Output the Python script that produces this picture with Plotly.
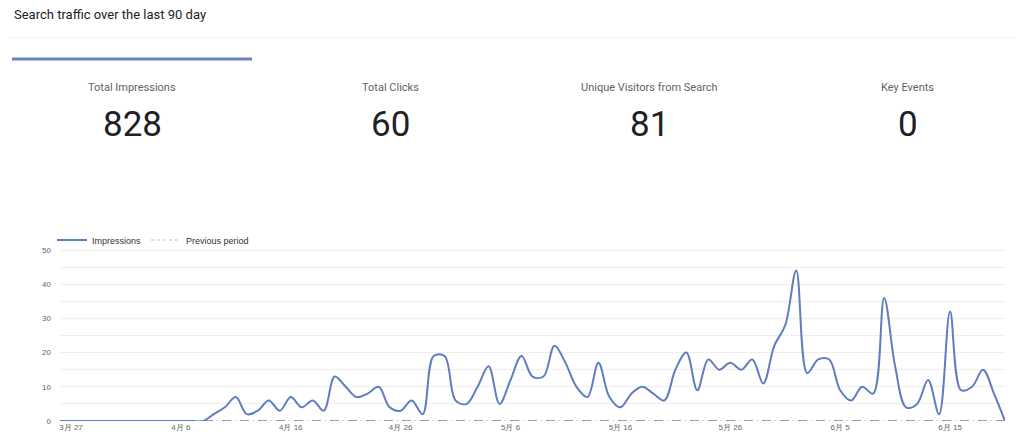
import pandas as pd
import plotly.graph_objects as go

# データ (3/26 から 6/20 までの日別インプレッション)
start_date = "2025-03-26"
impressions = [
    0, 0, 0, 0, 0, 0, 0, 0, 0, 0, 0, 0, 0, 0,
    2, 4, 7, 2, 3, 6, 3, 7, 4, 6, 3, 13, 10,
    7, 8, 10, 4, 3, 6, 2, 19, 19, 6, 5, 10, 16, 5, 12,
    19, 13, 13, 22, 17, 10, 7, 17, 7, 4, 8, 10, 8, 6, 15, 20,
    9, 18, 15, 17, 15, 18, 11, 22, 28, 44, 14, 18, 18,
    9, 6, 10, 8, 36, 16, 4, 5, 12, 2, 32, 9, 10, 15, 8, 0,
]
previous_period = [0] * len(impressions)
dates = pd.date_range(start_date, periods=len(impressions), freq="D")

tick_dates = ["2025-03-27", "2025-04-06", "2025-04-16", "2025-04-26", "2025-05-06",
              "2025-05-16", "2025-05-26", "2025-06-05", "2025-06-15"]
tick_text = ["3月 27", "4月 6", "4月 16", "4月 26", "5月 6",
             "5月 16", "5月 26", "6月 5", "6月 15"]
y_ticks = [0, 5, 10, 15, 20, 25, 30, 35, 40, 45, 50]
y_text = ["0", "", "10", "", "20", "", "30", "", "40", "", "50"]

kpi_labels = ["Total Impressions", "Total Clicks", "Unique Visitors from Search", "Key Events"]
kpi_values = ["828", "60", "81", "0"]

# ページは body の余白 8px 分ずれるので、その分を差し引いて配置する
OFF = 8
W, H = 1024 - OFF, 446 - OFF
L, R, T, B = 60 - OFF, 19, 249 - OFF, 25
PW, PH = W - L - R, H - T - B


def px(x):
    return (x - OFF - L) / PW


def py(y):
    return (H - B - (y - OFF)) / PH


fig = go.Figure()
fig.add_trace(go.Scatter(
    x=dates, y=previous_period, name="Previous period", mode="lines",
    line=dict(color="#c9d3ea", width=1.5, dash="dot"),
))
fig.add_trace(go.Scatter(
    x=dates, y=previous_period, showlegend=False, mode="lines", hoverinfo="skip",
    line=dict(color="#555555", width=1, dash="dash"),
))
fig.add_trace(go.Scatter(
    x=dates, y=impressions, name="Impressions", mode="lines",
    line=dict(color="#5f7dbf", width=2, shape="spline", smoothing=1.0),
))

# タイトル・KPI
ann = [dict(text="Search traffic over the last 90 day", x=px(12), y=py(15),
            xref="paper", yref="paper", xanchor="left", yanchor="middle", showarrow=False,
            font=dict(family="Roboto", size=13, color="#202124"))]
for i, (lab, val) in enumerate(zip(kpi_labels, kpi_values)):
    cx = 132 + i * 258.5
    ann.append(dict(text=lab, x=px(cx), y=py(87), xref="paper", yref="paper",
                    xanchor="center", yanchor="middle", showarrow=False,
                    font=dict(family="Roboto", size=11, color="#5f6368")))
    ann.append(dict(text=val, x=px(cx), y=py(124), xref="paper", yref="paper",
                    xanchor="center", yanchor="middle", showarrow=False,
                    font=dict(family="Roboto", size=35, color="#202124")))

shapes = [
    dict(type="line", xref="paper", yref="paper", x0=px(0), x1=px(1024), y0=py(38), y1=py(38),
         line=dict(color="#efefef", width=1)),
    dict(type="line", xref="paper", yref="paper", x0=px(12), x1=px(252), y0=py(59), y1=py(59),
         line=dict(color="#6a84c0", width=3)),
]

fig.update_layout(
    width=W, height=H,
    margin=dict(l=L, r=R, t=T, b=B),
    paper_bgcolor="white", plot_bgcolor="white",
    font=dict(family="Liberation Sans", size=9, color="#666666"),
    annotations=ann, shapes=shapes,
    legend=dict(orientation="h", x=px(52), y=py(240), xanchor="left", yanchor="middle",
                font=dict(size=9, color="#333333"), traceorder="reversed",
                itemwidth=30, bgcolor="rgba(0,0,0,0)"),
    xaxis=dict(range=[dates[0], dates[-1]], tickvals=tick_dates, ticktext=tick_text,
               showgrid=False, zeroline=False, showline=False,
               tickfont=dict(size=8, color="#666666")),
    yaxis=dict(range=[0, 50.3], tickvals=y_ticks, ticktext=y_text, showgrid=True,
               gridcolor="#eeeeee", zeroline=False, tickfont=dict(size=8, color="#666666"),
               ticklabelstandoff=8),
    showlegend=True,
)

fig.write_html("out.html")
